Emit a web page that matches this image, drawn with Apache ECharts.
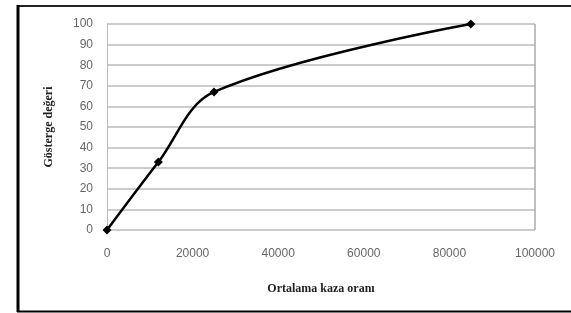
<!DOCTYPE html>
<html><head><meta charset="utf-8">
<script src="https://cdn.jsdelivr.net/npm/echarts@6/dist/echarts.min.js"></script>
<style>html,body{margin:0;padding:0;background:#fff}#c{width:571px;height:313px}</style>
</head><body><div id="c"></div>
<script>
const xValues = [0, 12000, 25000, 85000];
const yValues = [0, 33, 67, 100];
const xTicks = [0, 20000, 40000, 60000, 80000, 100000];
const yTicks = [0, 10, 20, 30, 40, 50, 60, 70, 80, 90, 100];
const xTitle = 'Ortalama kaza oranı';
const yTitle = 'Gösterge değeri';

const chart = echarts.init(document.getElementById('c'), null, {renderer: 'canvas'});
chart.setOption({
  animation: false,
  backgroundColor: '#fff',
  grid: {left: 107, right: 36, top: 24, bottom: 83, show: false},
  graphic: [
    {type: 'line', shape: {x1: 17, y1: 6, x2: 571, y2: 6}, style: {stroke: '#222', lineWidth: 2}},
    {type: 'line', shape: {x1: 18, y1: 5, x2: 18, y2: 312}, style: {stroke: '#000', lineWidth: 3}},
    {type: 'line', shape: {x1: 17, y1: 311.5, x2: 571, y2: 311.5}, style: {stroke: '#000', lineWidth: 2}}
  ],
  xAxis: {
    type: 'value', min: xTicks[0], max: xTicks[xTicks.length - 1], interval: 20000,
    name: xTitle, nameLocation: 'middle', nameGap: 53,
    nameTextStyle: {fontFamily: 'Liberation Serif', fontWeight: 'bold', fontSize: 12, color: '#222'},
    axisLine: {show: false}, axisTick: {show: false},
    axisLabel: {color: '#666', fontFamily: 'Liberation Sans', fontSize: 12, margin: 18, formatter: v => String(v)},
    splitLine: {show: false}
  },
  yAxis: {
    type: 'value', min: yTicks[0], max: yTicks[yTicks.length - 1], interval: 10,
    name: yTitle, nameLocation: 'middle', nameGap: 52, nameRotate: 90,
    nameTextStyle: {fontFamily: 'Liberation Serif', fontWeight: 'bold', fontSize: 12, color: '#222'},
    axisLine: {show: true, lineStyle: {color: '#bbb', width: 1}}, axisTick: {show: false},
    axisLabel: {color: '#666', fontFamily: 'Liberation Sans', fontSize: 12, margin: 14},
    splitLine: {show: true, lineStyle: {color: '#bbb', width: 1.5}}
  },
  series: [
    {
      type: 'line', data: xValues.map((x, i) => [x, yValues[i]]),
      smooth: 0.35, symbol: 'diamond', symbolSize: 9,
      lineStyle: {color: '#000', width: 2.5},
      itemStyle: {color: '#000'}
    },
    {
      type: 'line', data: [[xTicks[xTicks.length - 1], yTicks[0]], [xTicks[xTicks.length - 1], yTicks[yTicks.length - 1]]],
      symbol: 'none', lineStyle: {color: '#aaa', width: 1.5}, silent: true, z: 1
    }
  ]
});
</script></body></html>
